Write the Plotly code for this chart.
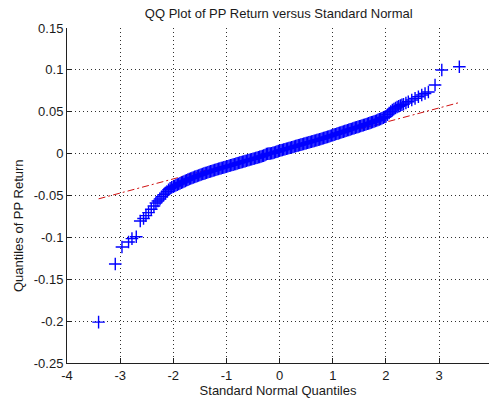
import plotly.graph_objects as go

# Theoretical standard normal quantiles (x) and the matching sorted PP returns (y)
normal_quantiles = [
    -3.406, -3.092, -2.966, -2.842, -2.778, -2.697, -2.622, -2.56, -2.515, -2.466,
    -2.415, -2.365, -2.327, -2.29, -2.25, -2.215, -2.18, -2.15, -2.12, -2.09,
    -2.06, -2.03,
    -2.0, -1.975, -1.95, -1.925, -1.9, -1.875, -1.85, -1.825,
    -1.8, -1.775, -1.75, -1.725, -1.7, -1.675, -1.65, -1.625,
    -1.6, -1.575, -1.55, -1.525, -1.5, -1.475, -1.45, -1.425,
    -1.4, -1.375, -1.35, -1.325, -1.3, -1.275, -1.25, -1.225,
    -1.2, -1.175, -1.15, -1.125, -1.1, -1.075, -1.05, -1.025,
    -1.0, -0.975, -0.95, -0.925, -0.9, -0.875, -0.85, -0.825,
    -0.8, -0.775, -0.75, -0.725, -0.7, -0.675, -0.65, -0.625,
    -0.6, -0.575, -0.55, -0.525, -0.5, -0.475, -0.45, -0.425,
    -0.4, -0.375, -0.35, -0.325, -0.3, -0.275, -0.25, -0.225,
    -0.2, -0.175, -0.15, -0.125, -0.1, -0.075, -0.05, -0.025,
    0.0, 0.025, 0.05, 0.075, 0.1, 0.125, 0.15, 0.175,
    0.2, 0.225, 0.25, 0.275, 0.3, 0.325, 0.35, 0.375,
    0.4, 0.425, 0.45, 0.475, 0.5, 0.525, 0.55, 0.575,
    0.6, 0.625, 0.65, 0.675, 0.7, 0.725, 0.75, 0.775,
    0.8, 0.825, 0.85, 0.875, 0.9, 0.925, 0.95, 0.975,
    1.0, 1.025, 1.05, 1.075, 1.1, 1.125, 1.15, 1.175,
    1.2, 1.225, 1.25, 1.275, 1.3, 1.325, 1.35, 1.375,
    1.4, 1.425, 1.45, 1.475, 1.5, 1.525, 1.55, 1.575,
    1.6, 1.625, 1.65, 1.675, 1.7, 1.725, 1.75, 1.775,
    1.8, 1.825, 1.85, 1.875, 1.9, 1.925, 1.95, 1.975,
    2.0, 2.03, 2.06, 2.09, 2.12, 2.15, 2.18, 2.21, 2.24, 2.27,
    2.30, 2.33, 2.375, 2.42, 2.485, 2.547, 2.61, 2.673, 2.735, 2.798,
    2.923, 3.05, 3.38,
]
pp_return_quantiles = [
    -0.2012, -0.1318, -0.1115, -0.1055, -0.1015, -0.0993, -0.0805, -0.0775, -0.0740, -0.0705,
    -0.0665, -0.0625, -0.0590, -0.0565, -0.0542, -0.0515, -0.0490, -0.0472, -0.0452, -0.0432,
    -0.0414, -0.0402,
    -0.0395, -0.03868, -0.03785, -0.03703, -0.0362, -0.03548, -0.03475, -0.03403,
    -0.0333, -0.03255, -0.0318, -0.03105, -0.0303, -0.02968, -0.02905, -0.02843,
    -0.0278, -0.02723, -0.02665, -0.02608, -0.0255, -0.02495, -0.0244, -0.02385,
    -0.0233, -0.02278, -0.02225, -0.02173, -0.0212, -0.0207, -0.0202, -0.0197,
    -0.0192, -0.01873, -0.01825, -0.01778, -0.0173, -0.01685, -0.0164, -0.01595,
    -0.0155, -0.01503, -0.01455, -0.01408, -0.0136, -0.01313, -0.01265, -0.01218,
    -0.0117, -0.01123, -0.01075, -0.01028, -0.0098, -0.00935, -0.0089, -0.00845,
    -0.0080, -0.00755, -0.0071, -0.00665, -0.0062, -0.00575, -0.0053, -0.00485,
    -0.0044, -0.0039, -0.0034, -0.0029, -0.0024, -0.0016, -0.0006, -0.0002,
    0.0000, 0.0002, 0.0005, 0.0009, 0.0013, 0.0019, 0.0024, 0.0030,
    0.0035, 0.00395, 0.0044, 0.00485, 0.0053, 0.00575, 0.0062, 0.00665,
    0.0071, 0.00755, 0.0080, 0.00845, 0.0089, 0.00935, 0.0098, 0.01025,
    0.0107, 0.01115, 0.0116, 0.01205, 0.0125, 0.01295, 0.0134, 0.01385,
    0.0143, 0.01475, 0.0152, 0.01565, 0.0161, 0.01658, 0.01705, 0.01753,
    0.0180, 0.0185, 0.0190, 0.0195, 0.0200, 0.02053, 0.02105, 0.02158,
    0.0221, 0.02263, 0.02315, 0.02368, 0.0242, 0.02473, 0.02525, 0.02578,
    0.0263, 0.02683, 0.02735, 0.02788, 0.0284, 0.02893, 0.02945, 0.02998,
    0.0305, 0.0310, 0.0315, 0.0320, 0.0325, 0.0330, 0.0335, 0.0340,
    0.0345, 0.03505, 0.0356, 0.03615, 0.0367, 0.03728, 0.03785, 0.03843,
    0.0390, 0.03963, 0.04025, 0.04088, 0.0415, 0.04225, 0.0430, 0.04375,
    0.0445, 0.0465, 0.0485, 0.0503, 0.0520, 0.0533, 0.0545, 0.0556, 0.0565, 0.0575,
    0.0583, 0.0590, 0.0605, 0.0620, 0.0640, 0.0660, 0.0680, 0.0700, 0.0718, 0.0735,
    0.0820, 0.0999, 0.1038,
]

# Reference line through the first and third quartiles, spanning the data range
ref_line_x = [-3.406, 3.38]
ref_line_y = [-0.0540, 0.0610]

x_tick_values = [-4, -3, -2, -1, 0, 1, 2, 3]
x_tick_labels = ["-4", "-3", "-2", "-1", "0", "1", "2", "3"]
y_tick_values = [-0.25, -0.2, -0.15, -0.1, -0.05, 0, 0.05, 0.1, 0.15]
y_tick_labels = ["-0.25", "-0.2", "-0.15", "-0.1", "-0.05", "0", "0.05", "0.1", "0.15"]

FONT = "Liberation Sans, Arial, sans-serif"
TEXT = "#1a1a1a"

fig = go.Figure()

fig.add_trace(go.Scatter(
    x=ref_line_x, y=ref_line_y, mode="lines",
    line=dict(color="#d01010", width=1, dash="7px,3px,2px,3px"),
    showlegend=False, hoverinfo="skip",
))

fig.add_trace(go.Scatter(
    x=normal_quantiles, y=pp_return_quantiles, mode="markers",
    marker=dict(symbol="cross-thin", size=9, line=dict(color="#0000ff", width=1.4)),
    showlegend=False,
))

axis_common = dict(
    showline=True, linecolor="#202020", linewidth=1,
    ticks="inside", ticklen=5, tickcolor="#202020",
    showgrid=True, gridcolor="#303030", gridwidth=1, griddash="1px,3px",
    zeroline=False, mirror=False,
    tickfont=dict(family=FONT, size=13, color=TEXT),
)

fig.update_xaxes(
    range=[-4, 3.938], tickvals=x_tick_values, ticktext=x_tick_labels,
    title=dict(text="Standard Normal Quantiles", font=dict(family=FONT, size=13, color=TEXT), standoff=4),
    **axis_common,
)
fig.update_yaxes(
    range=[-0.25, 0.15], tickvals=y_tick_values, ticktext=y_tick_labels,
    **axis_common,
)

fig.add_annotation(
    text="Quantiles of PP Return", textangle=-90,
    xref="paper", yref="paper", x=-0.115, y=0.41,
    xanchor="center", yanchor="middle", showarrow=False,
    font=dict(family=FONT, size=13, color=TEXT),
)

fig.update_layout(
    width=489, height=404,
    margin=dict(l=67, r=0, t=28, b=41),
    paper_bgcolor="white", plot_bgcolor="white",
    title=dict(
        text="QQ Plot of PP Return versus Standard Normal",
        font=dict(family=FONT, size=13, color=TEXT),
        x=0.57, xanchor="center", y=1 - 13 / 404, yanchor="middle",
    ),
)

fig.write_html("out.html")
